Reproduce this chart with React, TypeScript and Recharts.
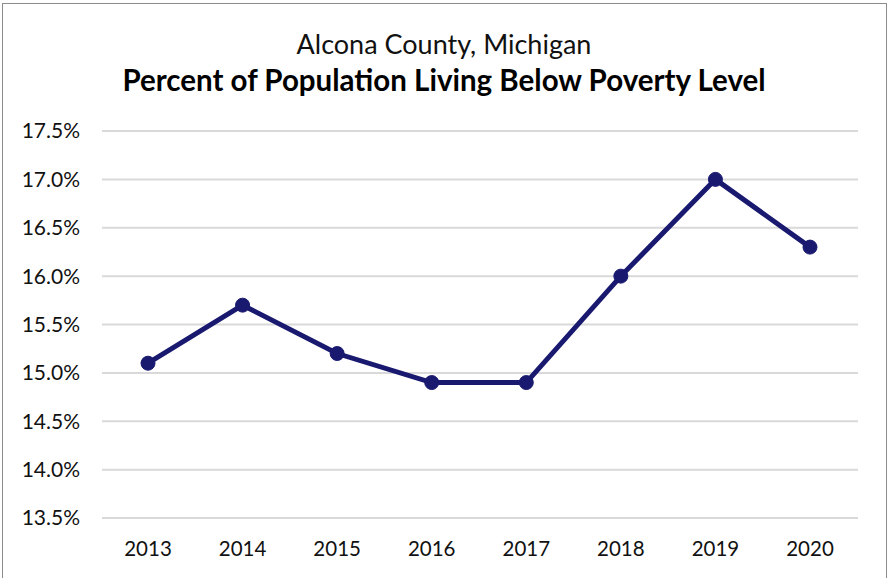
import { CartesianGrid, Line, LineChart, XAxis, YAxis } from 'recharts';

const years = ['2013', '2014', '2015', '2016', '2017', '2018', '2019', '2020'];
const povertyRate = [15.1, 15.7, 15.2, 14.9, 14.9, 16.0, 17.0, 16.3];
const yTicks = [13.5, 14.0, 14.5, 15.0, 15.5, 16.0, 16.5, 17.0, 17.5];

const data = years.map((year, i) => ({ year, rate: povertyRate[i] }));

const font = 'Lato, "Open Sans", sans-serif';

export default function App() {
  return (
    <div style={{ position: 'relative', width: 888, height: 578, overflow: 'hidden', background: '#fff', fontFamily: font }}>
      <style>{'body { margin: 0; }'}</style>
      <div style={{ position: 'absolute', left: 2, top: 3, width: 883, height: 580, border: '1px solid #8c8c8c' }} />
      <div style={{ position: 'absolute', left: 0, top: 27, width: 888, textAlign: 'center', fontSize: 27, lineHeight: '34px', color: '#111' }}>
        Alcona County, Michigan
      </div>
      <div style={{ position: 'absolute', left: 0, top: 62, width: 888, textAlign: 'center', fontSize: 29.5, lineHeight: '36px', fontWeight: 700, color: '#000' }}>
        Percent of Population Living Below Poverty Level
      </div>
      <LineChart width={888} height={578} data={data} margin={{ top: 131, right: 30, bottom: 0, left: 0 }} style={{ position: 'absolute', left: 0, top: 0 }}>
        <CartesianGrid vertical={false} stroke="#d9d9d9" strokeWidth={2} />
        <XAxis
          dataKey="year"
          height={60}
          padding={{ left: 46, right: 48 }}
          axisLine={false}
          tickLine={false}
          tickMargin={17}
          tick={{ fontSize: 20.5, fill: '#111', fontFamily: font }}
        />
        <YAxis
          width={102}
          domain={[13.5, 17.5]}
          ticks={yTicks}
          axisLine={false}
          tickLine={false}
          tickMargin={16}
          tickFormatter={(v: number) => `${v.toFixed(1)}%`}
          tick={{ fontSize: 21, fill: '#111', fontFamily: font }}
        />
        <Line
          dataKey="rate"
          stroke="#191970"
          strokeWidth={5}
          dot={{ r: 7, fill: '#191970', stroke: '#191970', strokeWidth: 1 }}
          isAnimationActive={false}
        />
      </LineChart>
    </div>
  );
}
